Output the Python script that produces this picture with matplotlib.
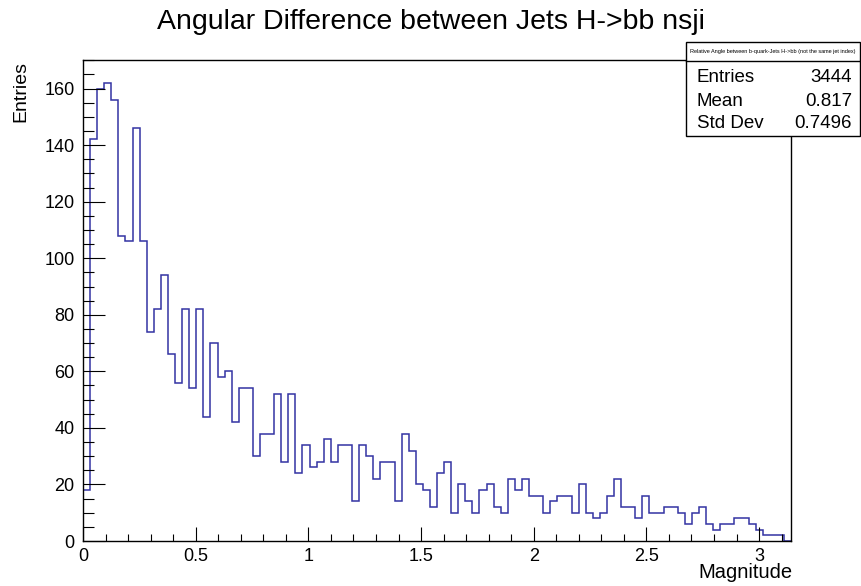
#! /usr/bin/env python3

import numpy as np
import matplotlib
matplotlib.use('Agg')
import matplotlib.pyplot as plt
from matplotlib.patches import Rectangle
from matplotlib.ticker import MultipleLocator, FormatStrFormatter

plt.rcParams['font.family'] = ['Liberation Sans', 'DejaVu Sans']

# bin contents (100 bins from 0 to pi)
counts = [18, 142, 160, 162, 156, 108, 106, 146, 106, 74,
          82, 94, 66, 56, 82, 54, 82, 44, 70, 58,
          60, 42, 54, 54, 30, 38, 38, 52, 28, 52,
          24, 34, 26, 28, 36, 28, 34, 34, 14, 34,
          30, 22, 28, 28, 14, 38, 32, 20, 18, 12,
          24, 28, 10, 20, 14, 10, 18, 20, 12, 10,
          22, 18, 22, 16, 16, 10, 14, 16, 16, 10,
          20, 10, 8, 10, 16, 22, 12, 12, 8, 16,
          10, 10, 12, 12, 10, 6, 10, 12, 6, 4,
          6, 6, 8, 8, 6, 4, 2, 2, 2, 0]
n_bins = 100
x_min, x_max = 0.0, np.pi

title = "Angular Difference between Jets H->bb nsji"
stats_title = "Relative Angle between b-quark-Jets H->bb (not the same jet index)"
stats_names = ["Entries", "Mean", "Std Dev"]
stats_values = ["3444", "0.817", "0.7496"]

W, H = 861, 586
fig = plt.figure(figsize=(W / 100, H / 100), dpi=100)
ax = fig.add_axes([83 / W, 1 - 541 / H, (791 - 83) / W, (541 - 60) / H])

edges = np.linspace(x_min, x_max, n_bins + 1)
ax.stairs(counts, edges, baseline=0, color='#3333a3', linewidth=1.1)

ax.set_xlim(x_min, x_max)
ax.set_ylim(0, 1.05 * max(counts))

ax.xaxis.set_major_locator(MultipleLocator(0.5))
ax.xaxis.set_minor_locator(MultipleLocator(0.1))
ax.yaxis.set_major_locator(MultipleLocator(20))
ax.yaxis.set_minor_locator(MultipleLocator(5))
ax.xaxis.set_major_formatter(FormatStrFormatter('%g'))

ax.tick_params(axis='x', which='major', direction='in', length=10, width=0.8, labelsize=13, pad=5)
ax.tick_params(axis='x', which='minor', direction='in', length=5, width=0.8)
ax.tick_params(axis='y', which='major', direction='in', length=15.5, width=0.8, labelsize=13, pad=6)
ax.tick_params(axis='y', which='minor', direction='in', length=8, width=0.8)
for s in ax.spines.values():
    s.set_linewidth(1.0)

fig.text(430.5 / W, 1 - 22 / H, title, ha='center', va='center', fontsize=20.5)
fig.text(21 / W, 1 - 61 / H, "Entries", rotation=90, ha='center', va='top', fontsize=14)
fig.text(793 / W, 1 - 573 / H, "Magnitude", ha='right', va='center', fontsize=14.5)

# stats box
bx0, bx1, by0, by1, bsep = 686, 860, 42, 136, 61
fig.add_artist(Rectangle((bx0 / W, 1 - by1 / H), (bx1 - bx0) / W, (by1 - by0) / H,
                         transform=fig.transFigure, facecolor='white', edgecolor='black',
                         linewidth=1.0, zorder=5))
fig.add_artist(plt.Line2D([bx0 / W, bx1 / W], [1 - bsep / H, 1 - bsep / H],
                          transform=fig.transFigure, color='black', linewidth=1.0, zorder=6))
fig.text((bx0 + bx1) / 2 / W, 1 - 51.5 / H, stats_title, ha='center', va='center',
         fontsize=4.0, zorder=7)
row_y = [77, 101, 124]
for name, val, yy in zip(stats_names, stats_values, row_y):
    fig.text(697 / W, 1 - yy / H, name, ha='left', va='center', fontsize=13.5, zorder=7)
    fig.text(852 / W, 1 - yy / H, val, ha='right', va='center', fontsize=13.5, zorder=7)

fig.savefig('out.png', dpi=100)
